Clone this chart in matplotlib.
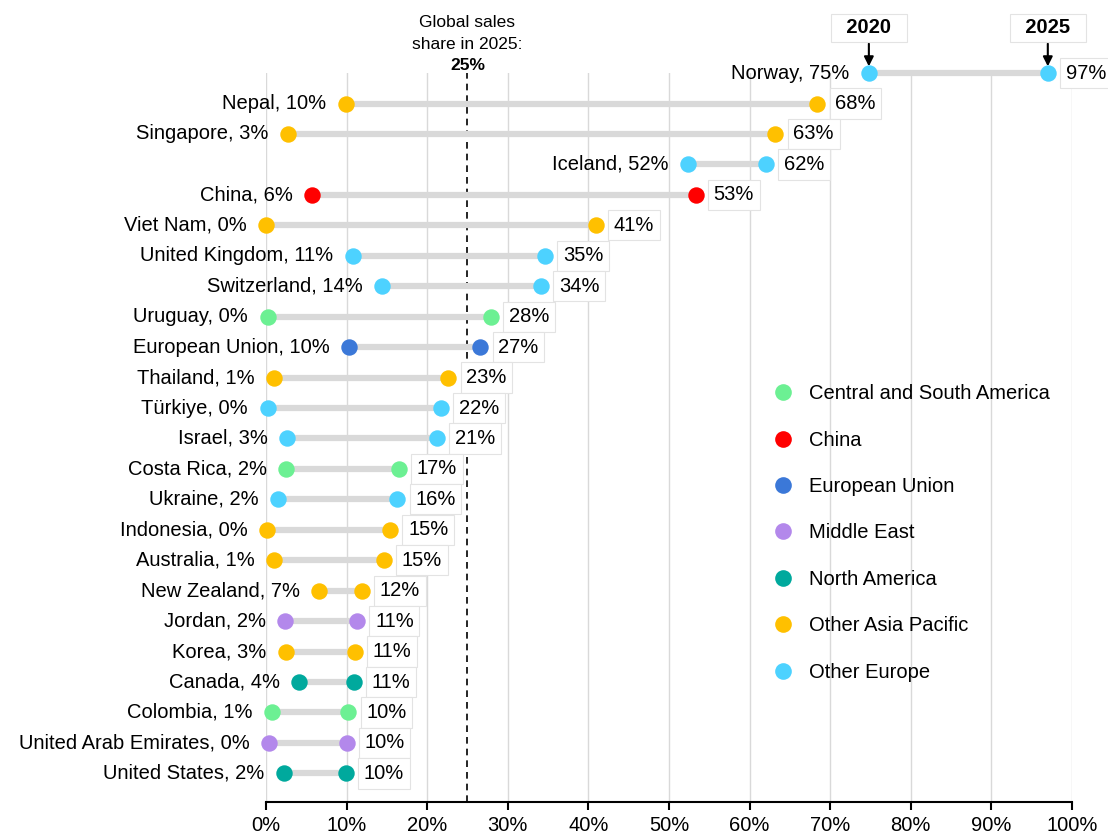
import matplotlib.pyplot as plt
from matplotlib.lines import Line2D

plt.rcParams['font.family'] = ['Liberation Sans', 'DejaVu Sans']
plt.rcParams['font.size'] = 14.5

# data (sales share of electric cars, %)
countries = ["Norway", "Nepal", "Singapore", "Iceland", "China", "Viet Nam",
             "United Kingdom", "Switzerland", "Uruguay", "European Union",
             "Thailand", "Türkiye", "Israel", "Costa Rica", "Ukraine",
             "Indonesia", "Australia", "New Zealand", "Jordan", "Korea",
             "Canada", "Colombia", "United Arab Emirates", "United States"]
share_2020 = [74.8, 9.9, 2.7, 52.4, 5.7, 0.0, 10.8, 14.4, 0.2, 10.3,
              1.0, 0.2, 2.6, 2.5, 1.5, 0.1, 1.0, 6.6, 2.4, 2.5,
              4.1, 0.7, 0.4, 2.2]
share_2025 = [97.0, 68.4, 63.2, 62.0, 53.3, 40.9, 34.6, 34.1, 27.9, 26.6,
              22.6, 21.7, 21.2, 16.5, 16.3, 15.4, 14.6, 11.9, 11.3, 11.0,
              10.9, 10.2, 10.0, 9.9]
label_2020 = ["75%", "10%", "3%", "52%", "6%", "0%", "11%", "14%", "0%", "10%",
              "1%", "0%", "3%", "2%", "2%", "0%", "1%", "7%", "2%", "3%",
              "4%", "1%", "0%", "2%"]
label_2025 = ["97%", "68%", "63%", "62%", "53%", "41%", "35%", "34%", "28%", "27%",
              "23%", "22%", "21%", "17%", "16%", "15%", "15%", "12%", "11%", "11%",
              "11%", "10%", "10%", "10%"]
regions = ["Other Europe", "Other Asia Pacific", "Other Asia Pacific", "Other Europe",
           "China", "Other Asia Pacific", "Other Europe", "Other Europe",
           "Central and South America", "European Union", "Other Asia Pacific",
           "Other Europe", "Other Europe", "Central and South America", "Other Europe",
           "Other Asia Pacific", "Other Asia Pacific", "Other Asia Pacific",
           "Middle East", "Other Asia Pacific", "North America",
           "Central and South America", "Middle East", "North America"]
global_share = 25

region_colors = {
    "Central and South America": "#6cf093",
    "China": "#ff0000",
    "European Union": "#3b78d8",
    "Middle East": "#b388eb",
    "North America": "#00a99d",
    "Other Asia Pacific": "#ffc000",
    "Other Europe": "#4dd2ff",
}

fig = plt.figure(figsize=(11.08, 8.35), dpi=100)
ax = fig.add_axes([0.240, 0.0395, 0.7275, 0.873])

n = len(countries)
ys = list(range(n - 1, -1, -1))

for i in range(n):
    y = ys[i]
    c = region_colors[regions[i]]
    ax.plot([share_2020[i], share_2025[i]], [y, y], color="#d9d9d9", lw=4.5,
            solid_capstyle="butt", zorder=2, clip_on=False)
    ax.scatter([share_2020[i], share_2025[i]], [y, y], s=140, color=c,
               zorder=3, clip_on=False, linewidths=0)
    ax.annotate(f"{countries[i]}, {label_2020[i]}", (share_2020[i], y),
                xytext=(-14, 0), textcoords="offset points",
                ha="right", va="center")
    ax.annotate(label_2025[i], (share_2025[i], y),
                xytext=(13, 0), textcoords="offset points",
                ha="left", va="center",
                bbox=dict(boxstyle="square,pad=0.28", fc="white", ec="#e3e3e3", lw=0.8))

# global average line
ax.axvline(global_share, color="black", ls=(0, (4, 3)), lw=1.2, zorder=1)
xt = ax.get_xaxis_transform()
ax.text(global_share, 1.07, "Global sales", transform=xt,
        ha="center", va="center", fontsize=12.5)
ax.text(global_share, 1.039, "share in 2025:", transform=xt,
        ha="center", va="center", fontsize=12.5)
ax.text(global_share, 1.0105, "25%", transform=xt,
        ha="center", va="center", fontsize=12.5, fontweight="bold")

# year markers on the top row
for yr, xv in [("2020", share_2020[0]), ("2025", share_2025[0])]:
    ax.annotate(f"  {yr}  ", (xv, ys[0] + 0.22), xytext=(xv, ys[0] + 1.48),
                ha="center", va="center", fontsize=14.5, fontweight="bold",
                bbox=dict(boxstyle="square,pad=0.22", fc="white", ec="#e3e3e3", lw=0.8),
                arrowprops=dict(arrowstyle="-|>", color="black", lw=1.5,
                                mutation_scale=14, shrinkA=1, shrinkB=0),
                annotation_clip=False)

ax.set_xlim(0, 100)
ax.set_ylim(-0.94, n - 1)
ax.set_xticks(range(0, 101, 10))
ax.set_xticklabels([f"{v}%" for v in range(0, 101, 10)])
ax.set_yticks([])
ax.grid(axis="x", color="#d9d9d9", lw=1)
ax.set_axisbelow(True)
for s in ["top", "right", "left"]:
    ax.spines[s].set_visible(False)
ax.spines["bottom"].set_linewidth(1.5)
ax.tick_params(axis="x", direction="out", length=6, width=1.5, pad=4)

handles = [Line2D([], [], marker="o", ls="", markersize=12,
                  markerfacecolor=col, markeredgewidth=0) for col in region_colors.values()]
ax.legend(handles, list(region_colors.keys()), loc="upper left",
          bbox_to_anchor=(0.607, 0.598), frameon=False,
          labelspacing=1.36, handletextpad=0.75, handlelength=1.0)

fig.savefig("out.png", dpi=100)
